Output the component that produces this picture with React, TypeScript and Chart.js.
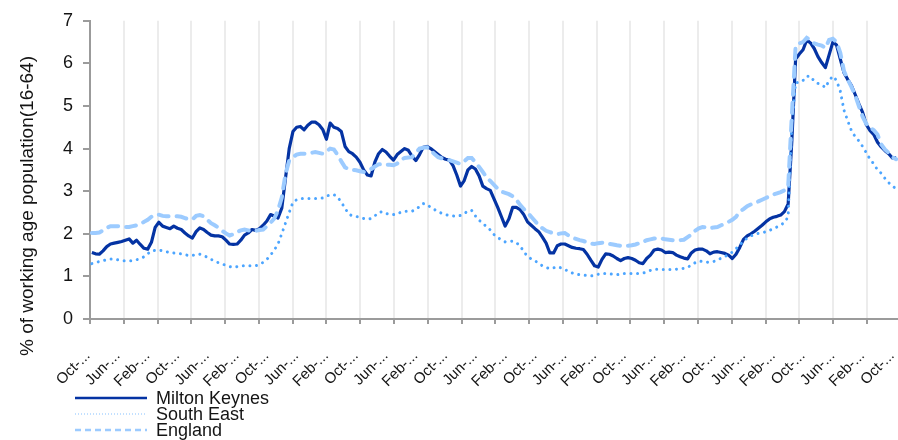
import React, { useEffect, useRef } from 'react';
import { Chart, registerables } from 'chart.js';

Chart.register(...registerables);

const FONT = '"Liberation Sans", Arial, Helvetica, sans-serif';
Chart.defaults.font.family = FONT;

// ---- Data ----
const MONTH_NAMES = ['Jan', 'Feb', 'Mar', 'Apr', 'May', 'Jun', 'Jul', 'Aug', 'Sep', 'Oct', 'Nov', 'Dec'];
const START_YEAR = 2004;
const START_MONTH = 9; // October
const POINT_COUNT = 217;
const categories: string[] = Array.from({ length: POINT_COUNT }, (_, i) => {
  const m = START_MONTH + i;
  return `${MONTH_NAMES[m % 12]}-${String(START_YEAR + Math.floor(m / 12)).slice(2)}`;
});

const LABEL_STEP = 8;
const Y_TICKS = [0, 1, 2, 3, 4, 5, 6, 7];
const Y_TITLE = '% of working age population(16-64)';
const SERIES_NAMES = ['Milton Keynes', 'South East', 'England'];

const miltonKeynes = [
  1.56, 1.53, 1.52, 1.6, 1.7, 1.76, 1.78, 1.8, 1.82, 1.85,
  1.88, 1.78, 1.85, 1.75, 1.66, 1.64, 1.8, 2.15, 2.27, 2.18,
  2.15, 2.12, 2.18, 2.13, 2.1, 2.02, 1.95, 1.9, 2.05, 2.14,
  2.1, 2.03, 1.97, 1.95, 1.95, 1.93, 1.85, 1.76, 1.75, 1.76,
  1.85, 1.97, 2.02, 2.1, 2.08, 2.12, 2.2, 2.3, 2.45, 2.42,
  2.37, 2.6, 3.3, 4.0, 4.4, 4.5, 4.52, 4.44, 4.55, 4.62,
  4.62, 4.56, 4.45, 4.22, 4.6, 4.5, 4.47, 4.4, 4.05, 3.93,
  3.88, 3.8, 3.68, 3.5, 3.38, 3.36, 3.68, 3.88, 3.98, 3.92,
  3.82, 3.73, 3.86, 3.93, 4.0, 3.96, 3.82, 3.72, 3.86, 4.03,
  4.05, 4.0, 3.93, 3.86, 3.79, 3.75, 3.73, 3.6, 3.38, 3.12,
  3.25, 3.5, 3.58, 3.52, 3.36, 3.12, 3.06, 3.02, 2.82, 2.62,
  2.4, 2.18, 2.35, 2.62, 2.62, 2.57, 2.45, 2.28, 2.2, 2.12,
  2.05, 1.92, 1.78, 1.55, 1.55, 1.72, 1.76, 1.76, 1.72, 1.68,
  1.66, 1.65, 1.63, 1.52, 1.38, 1.25, 1.22, 1.4, 1.53, 1.52,
  1.48, 1.42, 1.37, 1.42, 1.44, 1.42, 1.38, 1.32, 1.3, 1.42,
  1.5, 1.62, 1.64, 1.62, 1.56, 1.57, 1.56, 1.5, 1.46, 1.43,
  1.41, 1.55, 1.62, 1.64, 1.64, 1.6, 1.53, 1.57, 1.58, 1.56,
  1.54, 1.5, 1.42, 1.52, 1.68, 1.87, 1.95, 2.0, 2.06, 2.13,
  2.2, 2.28, 2.35, 2.39, 2.41, 2.44, 2.52, 2.7, 4.2, 6.1,
  6.22, 6.32, 6.55, 6.48, 6.35, 6.16, 6.02, 5.9, 6.2, 6.5,
  6.43, 6.1, 5.78, 5.62, 5.48, 5.27, 5.05, 4.85, 4.56, 4.42,
  4.33, 4.15, 4.04, 3.95, 3.88, 3.78, 3.78,
];

const southEast = [
  1.3, 1.32, 1.35, 1.37, 1.39, 1.41, 1.41, 1.39, 1.37, 1.37,
  1.37, 1.37, 1.39, 1.42, 1.46, 1.53, 1.6, 1.61, 1.62, 1.6,
  1.58, 1.56, 1.55, 1.54, 1.53, 1.51, 1.49, 1.49, 1.52, 1.52,
  1.49, 1.45, 1.4, 1.36, 1.32, 1.29, 1.26, 1.23, 1.21, 1.23,
  1.25, 1.25, 1.25, 1.25, 1.25, 1.28, 1.33, 1.4, 1.5, 1.62,
  1.76, 2.0, 2.25, 2.5, 2.74, 2.8, 2.83, 2.83, 2.83, 2.83,
  2.83, 2.83, 2.84, 2.88, 2.92, 2.92, 2.86, 2.74, 2.6, 2.46,
  2.42, 2.41, 2.38, 2.36, 2.34, 2.36, 2.42, 2.5, 2.52, 2.48,
  2.45, 2.45, 2.46, 2.51, 2.53, 2.53, 2.53, 2.57, 2.64, 2.71,
  2.69, 2.62, 2.57, 2.52, 2.48, 2.45, 2.43, 2.42, 2.41, 2.43,
  2.47, 2.54, 2.55, 2.42, 2.32, 2.24, 2.17, 2.09, 1.98, 1.91,
  1.86, 1.81, 1.82, 1.83, 1.79, 1.72, 1.58, 1.47, 1.41, 1.37,
  1.3, 1.25, 1.21, 1.18, 1.2, 1.23, 1.2, 1.17, 1.11, 1.08,
  1.05, 1.04, 1.03, 1.02, 1.01, 1.02, 1.05, 1.07, 1.07, 1.06,
  1.05, 1.04, 1.05, 1.07, 1.07, 1.07, 1.07, 1.07, 1.08, 1.1,
  1.14, 1.17, 1.17, 1.16, 1.16, 1.16, 1.16, 1.17, 1.18, 1.19,
  1.21, 1.27, 1.32, 1.36, 1.35, 1.33, 1.34, 1.35, 1.38, 1.43,
  1.47, 1.51, 1.57, 1.65, 1.74, 1.82, 1.9, 1.95, 1.99, 2.01,
  2.02, 2.05, 2.08, 2.12, 2.16, 2.21, 2.26, 2.4, 4.6, 5.55,
  5.55, 5.6, 5.7, 5.7, 5.58, 5.53, 5.5, 5.43, 5.6, 5.7,
  5.6, 5.35, 4.9, 4.65, 4.42, 4.28, 4.18, 4.05, 3.9, 3.75,
  3.64, 3.5, 3.42, 3.3, 3.2, 3.12, 3.06,
];

const england = [
  2.02, 2.02, 2.03, 2.08, 2.14, 2.18, 2.18, 2.18, 2.17, 2.16,
  2.16, 2.18, 2.2, 2.22, 2.28, 2.33, 2.4, 2.45, 2.45, 2.42,
  2.41, 2.41, 2.41, 2.41, 2.4, 2.37, 2.34, 2.34, 2.42, 2.44,
  2.41, 2.33, 2.25, 2.2, 2.14, 2.07, 2.01, 1.96, 1.99, 2.04,
  2.08, 2.1, 2.08, 2.06, 2.07, 2.09, 2.1, 2.18, 2.26, 2.36,
  2.55, 2.85, 3.4, 3.72, 3.8, 3.86, 3.88, 3.88, 3.88, 3.9,
  3.92, 3.9, 3.88, 3.94, 4.0, 3.98, 3.85, 3.7, 3.56, 3.52,
  3.5, 3.49, 3.47, 3.45, 3.48, 3.52, 3.58, 3.63, 3.64, 3.62,
  3.62, 3.61, 3.65, 3.74, 3.78, 3.79, 3.8, 3.9, 4.0, 4.02,
  4.03, 3.96, 3.87, 3.8, 3.77, 3.75, 3.73, 3.7, 3.67, 3.64,
  3.7, 3.78, 3.78, 3.68, 3.57, 3.45, 3.33, 3.24, 3.15, 3.06,
  2.99, 2.96, 2.93, 2.88, 2.8, 2.68, 2.58, 2.5, 2.4, 2.3,
  2.2, 2.13, 2.07, 2.04, 2.01, 1.99, 2.01, 2.02, 1.96, 1.91,
  1.88, 1.85, 1.83, 1.8, 1.77, 1.76, 1.78, 1.79, 1.78, 1.76,
  1.75, 1.73, 1.72, 1.72, 1.72, 1.73, 1.75, 1.78, 1.81, 1.85,
  1.87, 1.89, 1.9, 1.89, 1.87, 1.86, 1.85, 1.85, 1.85, 1.86,
  1.92, 1.98, 2.07, 2.13, 2.16, 2.15, 2.13, 2.15, 2.16, 2.2,
  2.24, 2.28, 2.33, 2.4, 2.52, 2.58, 2.65, 2.69, 2.72, 2.76,
  2.8, 2.84, 2.88, 2.92, 2.95, 2.98, 3.02, 3.1, 4.8, 6.4,
  6.47, 6.5, 6.6, 6.55, 6.47, 6.44, 6.42, 6.36, 6.55, 6.58,
  6.5, 6.25, 5.82, 5.62, 5.45, 5.25, 5.0, 4.75, 4.58, 4.5,
  4.43, 4.33, 4.1, 3.98, 3.9, 3.8, 3.75,
];

// ---- Style ----
const MK_COLOR = '#0433a3';
const SE_COLOR = '#4ca5ff';
const EN_COLOR = '#9ccbff';
const AXIS_COLOR = '#9b9b9b';
const GRID_COLOR = '#ececec';
const TEXT_COLOR = '#141414';

// vertical grid every 9 categories (axis span expressed in category units)
const GRID_STEP = 9;
const GRID_SPAN = 215.3;
const gridTickValues: number[] = [];
for (let v = 0; v <= GRID_SPAN; v += GRID_STEP) gridTickValues.push(v);

const legendStyles = [
  { width: 2.5, dash: [] as number[], color: MK_COLOR, alpha: 1 },
  { width: 1.5, dash: [1, 2], color: SE_COLOR, alpha: 0.45 },
  { width: 2.5, dash: [6, 4], color: EN_COLOR, alpha: 1 },
];

const textPlugin = {
  id: 'textDecor',
  afterDraw(chart: any) {
    const ctx = chart.ctx as CanvasRenderingContext2D;
    // y-axis title
    ctx.save();
    ctx.translate(33, 206);
    ctx.rotate(-Math.PI / 2);
    ctx.font = `19px ${FONT}`;
    ctx.fillStyle = TEXT_COLOR;
    ctx.textAlign = 'center';
    ctx.textBaseline = 'alphabetic';
    ctx.fillText(Y_TITLE, 0, 0);
    ctx.restore();

    // legend (stacked vertically under the axis labels)
    const x0 = 75;
    const x1 = 147;
    const tx = 156;
    const rowY = [398, 414, 430];
    chart.data.datasets.forEach((ds: any, k: number) => {
      const st = legendStyles[k];
      ctx.save();
      ctx.globalAlpha = st.alpha;
      ctx.strokeStyle = st.color;
      ctx.lineWidth = st.width;
      ctx.setLineDash(st.dash);
      ctx.beginPath();
      ctx.moveTo(x0, rowY[k]);
      ctx.lineTo(x1, rowY[k]);
      ctx.stroke();
      ctx.restore();
      ctx.save();
      ctx.font = `18px ${FONT}`;
      ctx.fillStyle = TEXT_COLOR;
      ctx.textAlign = 'left';
      ctx.textBaseline = 'alphabetic';
      ctx.fillText(ds.label, tx, rowY[k] + 5.5);
      ctx.restore();
    });
  },
};

export default function App() {
  const canvasRef = useRef<HTMLCanvasElement | null>(null);

  useEffect(() => {
    document.body.style.margin = '0';
    const canvas = canvasRef.current;
    if (!canvas) return;
    const chart = new Chart(canvas, {
      type: 'line',
      data: {
        labels: categories,
        datasets: [
          {
            label: SERIES_NAMES[0],
            data: miltonKeynes,
            xAxisID: 'x',
            yAxisID: 'y',
            borderColor: MK_COLOR,
            backgroundColor: MK_COLOR,
            borderWidth: 3.2,
            borderJoinStyle: 'round',
            pointRadius: 0,
            tension: 0,
            order: 3,
          },
          {
            label: SERIES_NAMES[1],
            data: southEast,
            xAxisID: 'x',
            yAxisID: 'y',
            borderColor: SE_COLOR,
            backgroundColor: SE_COLOR,
            borderWidth: 3,
            borderDash: [0.01, 6.6],
            borderCapStyle: 'round',
            pointRadius: 0,
            tension: 0,
            order: 2,
          },
          {
            label: SERIES_NAMES[2],
            data: england,
            xAxisID: 'x',
            yAxisID: 'y',
            borderColor: EN_COLOR,
            backgroundColor: EN_COLOR,
            borderWidth: 4,
            borderDash: [10, 8],
            borderCapStyle: 'round',
            pointRadius: 0,
            tension: 0,
            order: 1,
          },
        ],
      },
      options: {
        animation: false,
        responsive: true,
        maintainAspectRatio: false,
        layout: { padding: { top: 17, left: 0, right: 0, bottom: 0 } },
        plugins: {
          legend: { display: false },
          tooltip: { enabled: false },
          title: { display: false },
        },
        scales: {
          x: {
            type: 'category',
            position: 'bottom',
            weight: 1,
            offset: true,
            grid: { display: false, drawTicks: true, tickLength: 23 },
            border: { display: false },
            ticks: {
              autoSkip: false,
              minRotation: 45,
              maxRotation: 45,
              padding: 0,
              labelOffset: -4,
              color: TEXT_COLOR,
              font: { family: FONT, size: 15 },
              callback: (_v: any, i: number) =>
                i % LABEL_STEP === 0 ? categories[i].slice(0, 4) + '...' : '',
            },
            afterFit: (s: any) => {
              s.height = 116;
              s.paddingLeft = 0;
              s.paddingRight = 0;
            },
          },
          xg: {
            type: 'linear',
            axis: 'x',
            position: 'bottom',
            weight: 0,
            min: 0,
            max: GRID_SPAN,
            afterBuildTicks: (s: any) => {
              s.ticks = gridTickValues.map((v) => ({ value: v }));
            },
            ticks: { display: false },
            grid: {
              color: GRID_COLOR,
              lineWidth: 2,
              drawTicks: true,
              tickLength: 5,
              tickColor: AXIS_COLOR,
              tickWidth: 2,
            },
            border: { display: true, color: AXIS_COLOR, width: 2 },
            afterFit: (s: any) => {
              s.height = 5;
              s.paddingLeft = 0;
              s.paddingRight = 0;
            },
          },
          y: {
            type: 'linear',
            position: 'left',
            min: 0,
            max: 7,
            afterBuildTicks: (s: any) => {
              s.ticks = Y_TICKS.map((v) => ({ value: v }));
            },
            ticks: {
              padding: 10,
              color: TEXT_COLOR,
              font: { family: FONT, size: 18 },
            },
            grid: {
              drawOnChartArea: false,
              drawTicks: true,
              tickLength: 7,
              color: AXIS_COLOR,
              lineWidth: 2,
            },
            border: { display: true, color: AXIS_COLOR, width: 2 },
            afterFit: (s: any) => {
              s.width = 90;
            },
          },
        },
      } as any,
      plugins: [textPlugin],
    });
    return () => chart.destroy();
  }, []);

  return (
    <div style={{ position: 'relative', width: 898, height: 440 }}>
      <canvas ref={canvasRef} />
    </div>
  );
}
